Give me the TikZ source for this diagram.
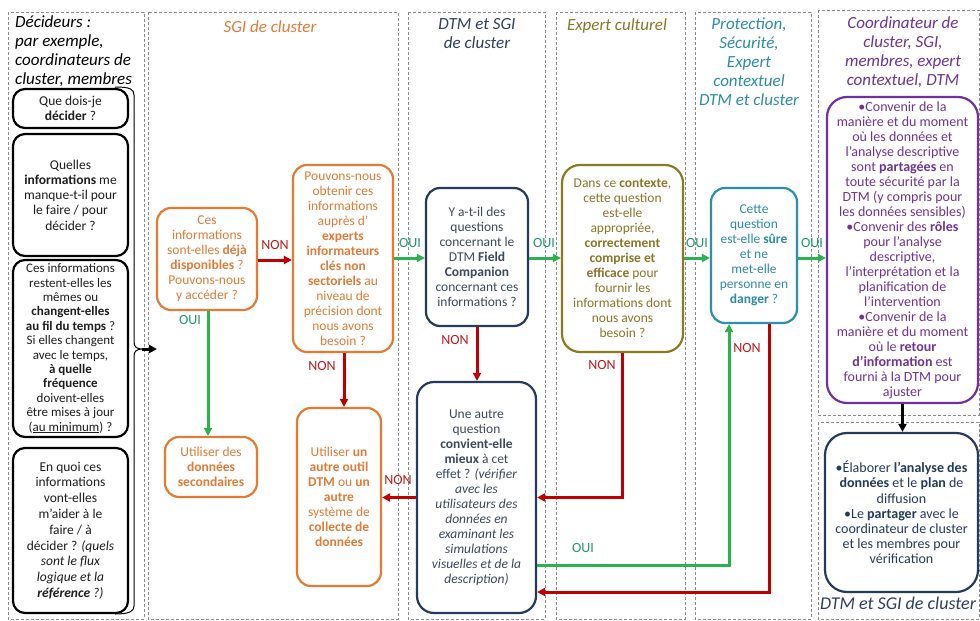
\documentclass[tikz,border=0pt]{standalone}
\usepackage{fontspec}
\setmainfont{Carlito}
\usetikzlibrary{arrows.meta,calc}
\definecolor{laneGray}{HTML}{8C8C8C}
\definecolor{txtDark}{HTML}{1E1E1E}
\definecolor{orBorder}{HTML}{E37A35}
\definecolor{orText}{HTML}{E07B39}
\definecolor{navyBorder}{HTML}{263A5A}
\definecolor{navyText}{HTML}{3C4A5C}
\definecolor{navyTitle}{HTML}{2F3F5F}
\definecolor{olBorder}{HTML}{8C7A1E}
\definecolor{olText}{HTML}{8A7628}
\definecolor{tealBorder}{HTML}{2B8FAE}
\definecolor{tealText}{HTML}{2E8CA6}
\definecolor{purBorder}{HTML}{7030A0}
\definecolor{purText}{HTML}{6E3596}
\definecolor{greenArr}{HTML}{2DB150}
\definecolor{greenLbl}{HTML}{1E9A68}
\definecolor{redArr}{HTML}{C00000}
\definecolor{redLbl}{HTML}{B81C1C}
\begin{document}
\begin{tikzpicture}[x=1pt,y=-1pt,
  lane/.style={draw=laneGray, dash pattern=on 3pt off 2pt, line width=0.7pt},
  box/.style={draw, rounded corners=14pt, line width=2.2pt, align=center, inner sep=0pt,
              font=\fontsize{13.5}{15}\selectfont},
  lbox/.style={box, draw=black, text=txtDark, rounded corners=12pt},
  obox/.style={box, draw=orBorder, text=orText},
  nbox/.style={box, draw=navyBorder, text=navyText},
  ebox/.style={box, draw=olBorder, text=olText},
  pbox/.style={box, draw=tealBorder, text=tealText},
  cbox/.style={box, draw=purBorder, text=purText, rounded corners=20pt, font=\fontsize{14}{15}\selectfont},
  ttl/.style={align=center, inner sep=0pt, font=\fontsize{17}{19}\selectfont\itshape},
  garr/.style={draw=greenArr, line width=3pt, -{Triangle[length=8pt,width=8pt]}},
  rarr/.style={draw=redArr, line width=3pt, -{Triangle[length=8pt,width=8pt]}},
  barr/.style={draw=black, line width=3pt, -{Triangle[length=8pt,width=8pt]}},
  oui/.style={text=greenLbl, inner sep=0pt, font=\fontsize{14}{15}\selectfont},
  non/.style={text=redLbl, inner sep=0pt, font=\fontsize{14}{15}\selectfont},
]
\useasboundingbox (0,0) rectangle (980,621);
\fill[white] (0,0) rectangle (980,621);

% lanes
\draw[lane] (8,12) rectangle (144,619);
\draw[lane] (148,12) rectangle (398,619);
\draw[lane] (408,12) rectangle (545,619);
\draw[lane] (556,12) rectangle (685,619);
\draw[lane] (695,12) rectangle (811,619);
\draw[lane] (818,10) rectangle (979,415);
\draw[lane] (818,422) rectangle (979,619);

% titles
\node[ttl, align=left, anchor=west, text=black] (t1) at (15,51.5) {Décideurs :\\par exemple,\\coordinateurs de\\cluster, membres};
\node[ttl, text=orText] (t2) at (270,27) {SGI de cluster};
\node[ttl, text=navyTitle] (t3) at (477,34) {DTM et SGI\\de cluster};
\node[ttl, text=olText] (t4) at (617,26) {Expert culturel};
\node[ttl, text=tealText] (t5) at (749,62) {Protection,\\Sécurité,\\Expert\\contextuel\\DTM et cluster};
\node[ttl, text=purText] (t6) at (903,52) {Coordinateur de\\cluster, SGI,\\membres, expert\\contextuel, DTM};
\node[ttl, text=navyTitle, font=\fontsize{18}{19}\selectfont\itshape] (t7) at (898,603) {DTM et SGI de cluster};

% left lane boxes
\node[lbox, minimum width=115pt, minimum height=39pt] (q1) at (70.5,108.5)
  {Que dois-je\\\textbf{décider} ?};
\node[lbox, minimum width=115pt, minimum height=122pt, font=\fontsize{13.5}{15.3}\selectfont] (q2) at (70.5,195)
  {Quelles\\\textbf{informations} me\\manque-t-il pour\\le faire / pour\\décider ?};
\node[lbox, minimum width=115pt, minimum height=177pt, font=\fontsize{13}{14.4}\selectfont] (q3) at (70.5,348.5)
  {Ces informations\\restent-elles les\\mêmes ou\\\textbf{changent-elles}\\\textbf{au fil du temps} ?\\Si elles changent\\avec le temps,\\\textbf{à quelle}\\\textbf{fréquence}\\doivent-elles\\être mises à jour\\(\underline{au minimum}) ?};
\node[lbox, minimum width=115pt, minimum height=165pt, font=\fontsize{13.5}{15.8}\selectfont] (q4) at (70.5,530.5)
  {En quoi ces\\informations\\vont-elles\\m’aider à le\\faire / à\\décider ? \textit{(quels}\\\textit{sont le flux}\\\textit{logique et la}\\\textit{\textbf{référence} ?)}};

% bracket
\draw[line width=1pt] (115,87) .. controls (130,87) and (134,89) .. (134,95) -- (134,342)
  .. controls (134,347) and (137,349) .. (142,349)
  .. controls (137,349) and (134,351) .. (134,356) -- (134,606)
  .. controls (134,611) and (130,614) .. (115,614);
\coordinate (brk) at (142,349);
\coordinate (brkend) at (157,349);
\draw[barr] (brk) -- (brkend);

% SGI lane
\node[obox, minimum width=100pt, minimum height=102pt] (o1) at (207,259)
  {Ces\\informations\\sont-elles \textbf{déjà}\\\textbf{disponibles} ?\\Pouvons-nous\\y accéder ?};
\node[obox, minimum width=100pt, minimum height=187pt] (o2) at (343,258.5)
  {Pouvons-nous\\obtenir ces\\informations\\auprès d’\\\textbf{experts}\\\textbf{informateurs}\\\textbf{clés non}\\\textbf{sectoriels} au\\niveau de\\précision dont\\nous avons\\besoin ?};
\node[obox, minimum width=92pt, minimum height=60pt] (o3) at (211,467)
  {Utiliser des\\\textbf{données}\\\textbf{secondaires}};
\node[obox, minimum width=84pt, minimum height=178pt] (o4) at (339,497)
  {Utiliser \textbf{un}\\\textbf{autre outil}\\\textbf{DTM} ou \textbf{un}\\\textbf{autre}\\système de\\\textbf{collecte de}\\\textbf{données}};

% DTM lane
\node[nbox, minimum width=102pt, minimum height=138pt] (d1) at (477,257)
  {Y a-t-il des\\questions\\concernant le\\DTM \textbf{Field}\\\textbf{Companion}\\concernant ces\\informations ?};
\node[nbox, minimum width=119pt, minimum height=231pt, rounded corners=17pt] (d2) at (476.5,497.5)
  {Une autre\\question\\\textbf{convient-elle}\\\textbf{mieux} à cet\\effet ? \textit{(vérifier}\\\textit{avec les}\\\textit{utilisateurs des}\\\textit{données en}\\\textit{examinant les}\\\textit{simulations}\\\textit{visuelles et de la}\\\textit{description)}};

% Expert lane
\node[ebox, minimum width=121pt, minimum height=187pt, rounded corners=18pt] (e1) at (622.5,258.5)
  {Dans ce \textbf{contexte},\\cette question\\est-elle\\appropriée,\\\textbf{correctement}\\\textbf{comprise et}\\\textbf{efficace} pour\\fournir les\\informations dont\\nous avons\\besoin ?};

% Protection lane
\node[pbox, minimum width=86pt, minimum height=135pt] (p1) at (754,255.5)
  {Cette\\question\\est-elle \textbf{sûre}\\et ne\\met-elle\\personne en\\\textbf{danger} ?};

% Coordinator lane
\node[cbox, minimum width=151pt, minimum height=306pt] (c1) at (902.5,250)
  {•Convenir de la\\manière et du moment\\où les données et\\l’analyse descriptive\\sont \textbf{partagées} en\\toute sécurité par la\\DTM (y compris pour\\les données sensibles)\\•Convenir des \textbf{rôles}\\pour l’analyse\\descriptive,\\l’interprétation et la\\planification de\\l’intervention\\•Convenir de la\\manière et du moment\\où le \textbf{retour}\\\textbf{d’information} est\\fourni à la DTM pour\\ajuster};
\node[nbox, draw=navyBorder, text=navyBorder, minimum width=153pt, minimum height=159pt, rounded corners=22pt, font=\fontsize{14}{15.2}\selectfont] (c2) at (901.5,512.5)
  {•Élaborer \textbf{l’analyse des}\\\textbf{données} et le \textbf{plan} de\\diffusion\\•Le \textbf{partager} avec le\\coordinateur de cluster\\et les membres pour\\vérification};

% connectors
\draw[rarr] (o1.east |- 0,260) -- (o2.west |- 0,260);
\node[non] (l1) at (275,245) {NON};
\draw[garr] (o2.east |- 0,258) -- (d1.west |- 0,258);
\node[oui] (l2) at (410,243) {OUI};
\draw[garr] (d1.east |- 0,258) -- (e1.west |- 0,258);
\node[oui] (l3) at (544,243) {OUI};
\draw[garr] (e1.east |- 0,258) -- (p1.west |- 0,258);
\node[oui] (l4) at (697,243) {OUI};
\draw[garr] (p1.east |- 0,258) -- (c1.west |- 0,258);
\node[oui] (l5) at (812,243) {OUI};

\draw[garr] (208,0 |- o1.south) -- (208,0 |- o3.north);
\node[oui] (l6) at (190,320) {OUI};
\draw[rarr] (344,0 |- o2.south) -- (344,0 |- o4.north);
\node[non] (l7) at (322,366) {NON};
\draw[rarr] (d1.south) -- (d1.south |- d2.north);
\node[non] (l8) at (455,340) {NON};
\draw[rarr] (e1.south) |- (d2.east);
\node[non] (l9) at (602,365) {NON};
\draw[rarr] (d2.west) -- (o4.east |- d2.west);
\node[non] (l10) at (398,480) {NON};

\draw[garr] ($(d2.east)+(0,67.5)$) -| ($(p1.south)+(-25,0)$);
\node[oui] (l11) at (583,548) {OUI};
\draw[rarr] ($(p1.south)+(15,0)$) |- ($(d2.east)+(0,94.5)$);
\node[non] (l12) at (747,348) {NON};

\draw[barr, line width=3.5pt] (c1.south) -- (c1.south |- c2.north);
\end{tikzpicture}
\end{document}
